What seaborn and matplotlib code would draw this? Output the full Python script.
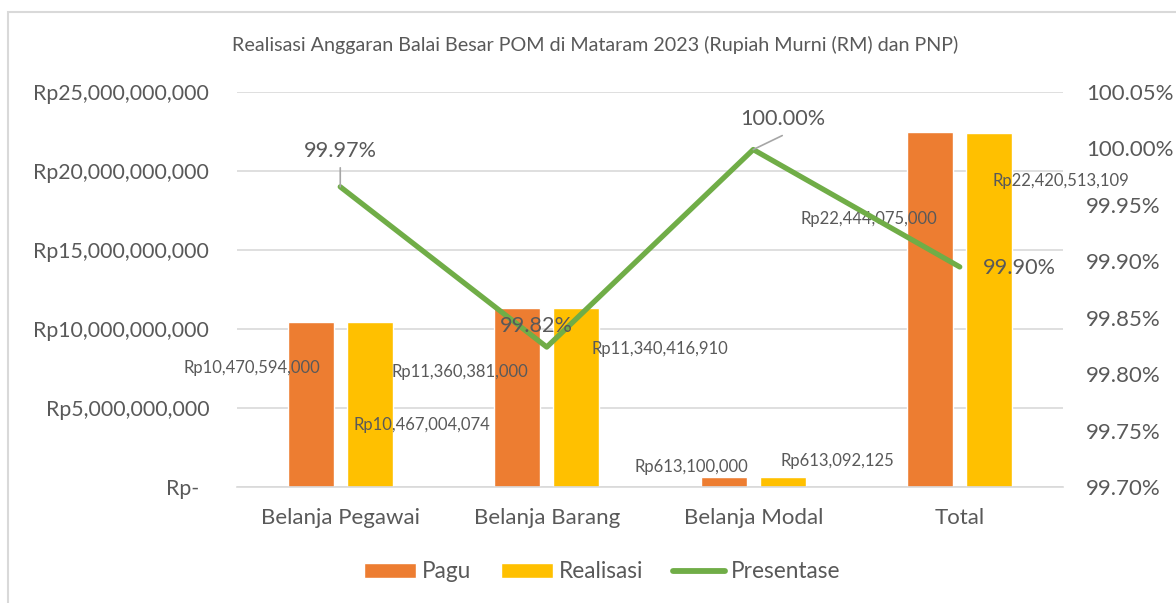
import numpy as np
import pandas as pd
import matplotlib
matplotlib.use("Agg")
import matplotlib.pyplot as plt
import matplotlib.transforms as mtrans
import seaborn as sns
from matplotlib.patches import Patch, Rectangle
from matplotlib.lines import Line2D

# --- data ---
categories = ["Belanja Pegawai", "Belanja Barang", "Belanja Modal", "Total"]
pagu = [10470594000, 11360381000, 613100000, 22444075000]
realisasi = [10467004074, 11340416910, 613092125, 22420513109]
presentase = [99.966, 99.824, 99.999, 99.895]
pct_labels = ["99.97%", "99.82%", "100.00%", "99.90%"]
left_ticks = ["Rp-", "Rp5,000,000,000", "Rp10,000,000,000", "Rp15,000,000,000",
              "Rp20,000,000,000", "Rp25,000,000,000"]
right_ticks = ["99.70%", "99.75%", "99.80%", "99.85%", "99.90%", "99.95%", "100.00%", "100.05%"]
title = "Realisasi Anggaran Balai Besar POM di Mataram 2023 (Rupiah Murni (RM) dan PNP)"

C_PAGU = "#ED7D31"
C_REAL = "#FFC000"
C_LINE = "#70AD47"
C_TEXT = "#595959"
C_GRID = "#D9D9D9"

sns.set_theme(style="white")
plt.rcParams["font.family"] = ["Lato", "DejaVu Sans"]

df = pd.DataFrame({
    "kategori": categories * 2,
    "nilai": pagu + realisasi,
    "seri": ["Pagu"] * 4 + ["Realisasi"] * 4,
})

fig = plt.figure(figsize=(11.76, 6.03), dpi=100)
fig.patches.append(Rectangle((8 / 1176, -0.1), 1.2, 1 - 12 / 603 + 0.1, transform=fig.transFigure,
                             fill=False, edgecolor=C_GRID, linewidth=1.5))
ax = fig.add_axes([237 / 1176, 116 / 603, 826 / 1176, 395 / 603])

sns.barplot(data=df, x="kategori", y="nilai", hue="seri", order=categories,
            palette=[C_PAGU, C_REAL], width=0.573, gap=0.22, saturation=1,
            legend=False, ax=ax, errorbar=None)
ax.set_ylim(0, 25e9)
ax.set_xlim(-0.5, 3.5)
ax.set_yticks(np.arange(0, 25e9 + 1, 5e9))
ax.set_yticklabels(left_ticks)
ax.yaxis.grid(True, color=C_GRID, linewidth=1.2)
ax.set_axisbelow(True)
for s in ax.spines.values():
    s.set_visible(False)
ax.spines["bottom"].set_visible(True)
ax.spines["bottom"].set_color(C_GRID)
ax.spines["bottom"].set_linewidth(1.2)
ax.tick_params(axis="y", length=0, pad=20, labelsize=15.3, labelcolor=C_TEXT)
ax.tick_params(axis="x", length=0, pad=15, labelsize=16, labelcolor=C_TEXT)
ax.set_xlabel("")
ax.set_ylabel("")
# "Rp-" ends a little further left in the original (accounting format)
zero_lab = ax.get_yticklabels()[0]
zero_lab.set_transform(zero_lab.get_transform() +
                       mtrans.ScaledTranslation(-10 / 100, 0, fig.dpi_scale_trans))

ax2 = ax.twinx()
sns.lineplot(x=np.arange(len(categories)), y=presentase, ax=ax2, color=C_LINE,
             linewidth=3.8, solid_capstyle="round")
ax2.set_ylim(99.70, 100.05)
ax2.set_yticks(np.linspace(99.70, 100.05, 8))
ax2.set_yticklabels(right_ticks)
ax2.tick_params(axis="y", length=0, pad=16.5, labelsize=16, labelcolor=C_TEXT)
for s in ax2.spines.values():
    s.set_visible(False)
ax2.set_ylabel("")

# bar data labels (offsets in pixels from bar top, y up)
bar_offsets_pagu = [(-58.5, -46), (-57.5, -64), (-32.5, 10), (-61.5, -87)]
bar_offsets_real = [(52.5, -103), (83.5, -41), (54.5, 16), (71.5, -48)]
k = 0.72
half = 0.573 / 4
for i, (p, r) in enumerate(zip(pagu, realisasi)):
    for val, off, shift in ((p, bar_offsets_pagu[i], -half), (r, bar_offsets_real[i], half)):
        ax.annotate(f"Rp{val:,}", xy=(i + shift, val), xytext=(off[0] * k, off[1] * k),
                    textcoords="offset points", ha="center", va="center",
                    fontsize=12, color=C_TEXT)

# line data labels
line_offsets = [(0, 36), (-10, 21), (29, 31), (60, -1)]
leaders = [True, False, True, False]
for i, (v, lab) in enumerate(zip(presentase, pct_labels)):
    off = line_offsets[i]
    ax2.annotate(lab, xy=(i, v), xytext=(off[0] * k, off[1] * k), textcoords="offset points",
                 ha="center", va="center", fontsize=15.6, color=C_TEXT)
    if leaders[i]:
        ax2.annotate("", xy=(i, v), xytext=(off[0] * k, (off[1] - 17) * k),
                     textcoords="offset points",
                     arrowprops=dict(arrowstyle="-", color="#A6A6A6", lw=1.2,
                                     shrinkA=0, shrinkB=0))

fig.text(595 / 1176, 1 - 45 / 603, title, ha="center", va="center", fontsize=14.2, color=C_TEXT)

handles = [Patch(facecolor=C_PAGU, label="Pagu"),
           Patch(facecolor=C_REAL, label="Realisasi"),
           Line2D([0], [0], color=C_LINE, linewidth=4.2, solid_capstyle="round", label="Presentase")]
leg = fig.legend(handles=handles, loc="center", bbox_to_anchor=(602 / 1176, 1 - 572 / 603),
                 ncol=3, frameon=False, fontsize=16.3, handlelength=2.3, handleheight=0.62,
                 columnspacing=1.33, handletextpad=0.25)
for t in leg.get_texts():
    t.set_color(C_TEXT)

fig.savefig("out.png", dpi=100)
